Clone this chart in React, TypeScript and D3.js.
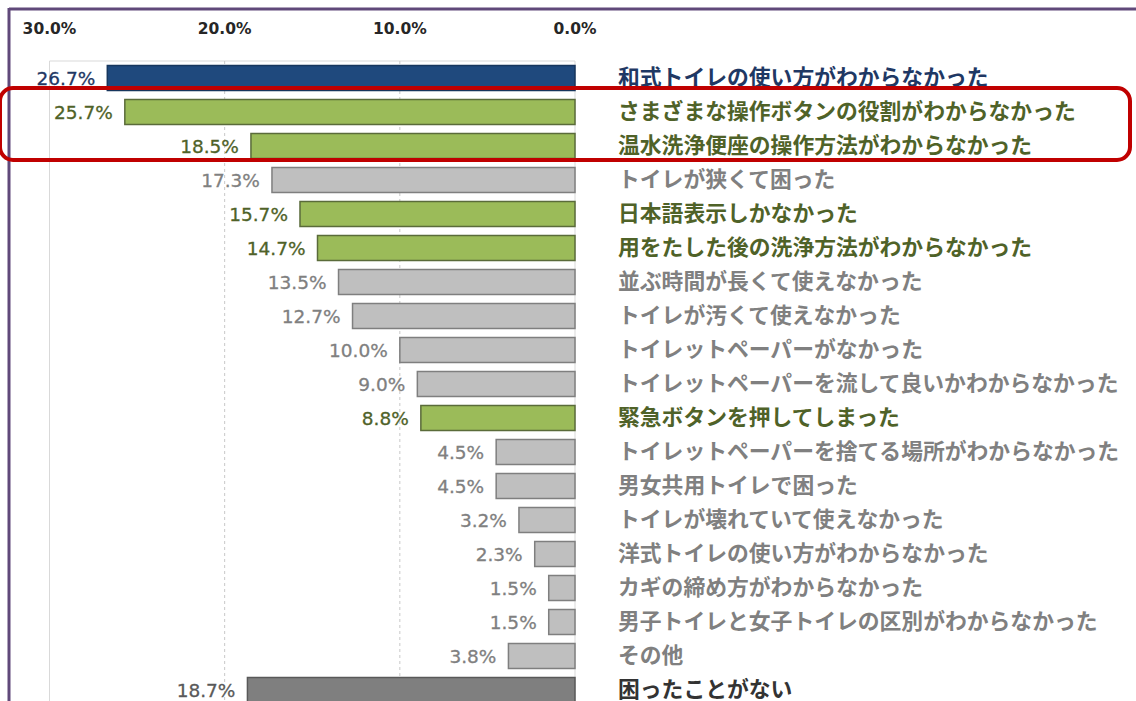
import React from 'react';
import * as d3 from 'd3';

const categories = [
  '和式トイレの使い方がわからなかった',
  'さまざまな操作ボタンの役割がわからなかった',
  '温水洗浄便座の操作方法がわからなかった',
  'トイレが狭くて困った',
  '日本語表示しかなかった',
  '用をたした後の洗浄方法がわからなかった',
  '並ぶ時間が長くて使えなかった',
  'トイレが汚くて使えなかった',
  'トイレットペーパーがなかった',
  'トイレットペーパーを流して良いかわからなかった',
  '緊急ボタンを押してしまった',
  'トイレットペーパーを捨てる場所がわからなかった',
  '男女共用トイレで困った',
  'トイレが壊れていて使えなかった',
  '洋式トイレの使い方がわからなかった',
  'カギの締め方がわからなかった',
  '男子トイレと女子トイレの区別がわからなかった',
  'その他',
  '困ったことがない',
];

const values = [26.7, 25.7, 18.5, 17.3, 15.7, 14.7, 13.5, 12.7, 10.0, 9.0, 8.8, 4.5, 4.5, 3.2, 2.3, 1.5, 1.5, 3.8, 18.7];

// group of each row: top / highlight / normal / none
const groups = ['top', 'highlight', 'highlight', 'normal', 'highlight', 'highlight', 'normal', 'normal', 'normal', 'normal', 'highlight', 'normal', 'normal', 'normal', 'normal', 'normal', 'normal', 'normal', 'none'];

const tickValues = [30, 20, 10, 0];

const barFill: Record<string, string> = {
  top: '#1f497d',
  highlight: '#9bbb59',
  normal: '#bfbfbf',
  none: '#7f7f7f',
};
const barStroke: Record<string, string> = {
  top: '#17365d',
  highlight: '#5a6b3a',
  normal: '#7f7f7f',
  none: '#595959',
};
const valueColor: Record<string, string> = {
  top: '#1f3864',
  highlight: '#4f6228',
  normal: '#808080',
  none: '#595959',
};
const labelColor: Record<string, string> = {
  top: '#1f3864',
  highlight: '#4f6228',
  normal: '#808080',
  none: '#333333',
};

export default function App() {
  const W = 1136;
  const H = 701;
  const x = d3.scaleLinear().domain([0, 30]).range([575, 49.5]);
  const y = d3
    .scaleBand<string>()
    .domain(categories)
    .range([61, 61 + 34 * categories.length])
    .paddingInner(9 / 34)
    .paddingOuter(4.5 / 34);
  const fmt = (v: number) => d3.format('.1f')(v) + '%';
  const bw = y.bandwidth();

  return (
    <svg
      width={W}
      height={H}
      style={{ position: 'absolute', left: 0, top: 0, background: '#fff' }}
    >
      <rect x={0} y={0} width={W} height={H} fill="#ffffff" />
      {/* purple frame */}
      <line x1={9} x2={W} y1={9} y2={9} stroke="#60497a" strokeWidth={3} />
      <line x1={9} x2={9} y1={8} y2={H} stroke="#60497a" strokeWidth={3} />

      {/* grid */}
      <line x1={x(30)} x2={x(0)} y1={61} y2={61} stroke="#d9d9d9" strokeWidth={1} />
      {tickValues.map((t) => (
        <line
          key={'g' + t}
          x1={x(t)}
          x2={x(t)}
          y1={61}
          y2={H}
          stroke={t === 30 || t === 0 ? '#d9d9d9' : '#c8c8c8'}
          strokeWidth={1}
          strokeDasharray={t === 30 || t === 0 ? undefined : '3,3'}
        />
      ))}

      {/* axis tick labels */}
      {tickValues.map((t) => (
        <text
          key={'t' + t}
          x={x(t)}
          y={29}
          textAnchor="middle"
          dominantBaseline="central"
          fontFamily="'DejaVu Sans', Verdana, sans-serif"
          fontWeight="bold"
          fontSize={15.5}
          fill="#262626"
        >
          {fmt(t)}
        </text>
      ))}

      {/* bars */}
      {categories.map((c, i) => {
        const g = groups[i];
        const y0 = y(c) as number;
        const cy = y0 + bw / 2;
        const xl = x(values[i]);
        return (
          <g key={c}>
            <rect
              x={xl}
              y={y0}
              width={x(0) - xl}
              height={bw}
              fill={barFill[g]}
              stroke={barStroke[g]}
              strokeWidth={1.5}
            />
            <text
              x={xl - 12}
              y={cy}
              textAnchor="end"
              dominantBaseline="central"
              fontFamily="'DejaVu Sans', Verdana, sans-serif"
              fontSize={18.5}
              stroke={valueColor[g]}
              strokeWidth={0.3}
              fill={valueColor[g]}
            >
              {fmt(values[i])}
            </text>
            <text
              x={618}
              y={cy - 3}
              dominantBaseline="central"
              fontFamily="'Noto Sans CJK JP', sans-serif"
              fontWeight="bold"
              fontSize={21.8}
              fill={labelColor[g]}
            >
              {c}
            </text>
          </g>
        );
      })}

      {/* red highlight box */}
      <rect
        x={0}
        y={88}
        width={1130}
        height={72}
        rx={13}
        ry={13}
        fill="none"
        stroke="#c00000"
        strokeWidth={4}
      />
    </svg>
  );
}
